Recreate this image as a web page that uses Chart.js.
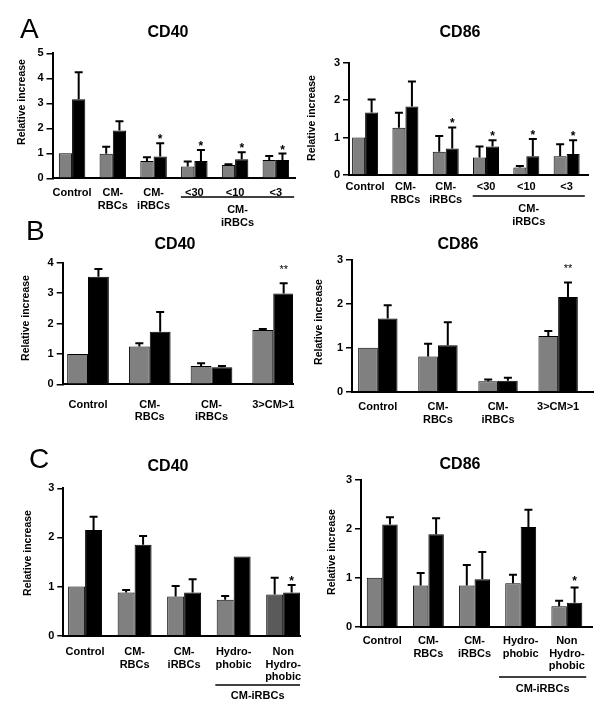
<!DOCTYPE html>
<html>
<head>
<meta charset="utf-8">
<script src="https://cdn.jsdelivr.net/npm/chart.js@4.4.1/dist/chart.umd.min.js"></script>
<style>
  body { margin: 0; background: #fff; }
  #wrap { position: relative; width: 600px; height: 714px; }
  canvas { position: absolute; left: 0; top: 0; }
</style>
</head>
<body>
<div id="wrap">
  <canvas id="a40" width="600" height="714"></canvas>
  <canvas id="a86" width="600" height="714"></canvas>
  <canvas id="b40" width="600" height="714"></canvas>
  <canvas id="b86" width="600" height="714"></canvas>
  <canvas id="c40" width="600" height="714"></canvas>
  <canvas id="c86" width="600" height="714"></canvas>
</div>
<script>
// Categories
const catsA = ["Control", ["CM-", "RBCs"], ["CM-", "iRBCs"], "<30", "<10", "<3"];
const catsB = ["Control", ["CM-", "RBCs"], ["CM-", "iRBCs"], "3>CM>1"];
const catsC = ["Control", ["CM-", "RBCs"], ["CM-", "iRBCs"], ["Hydro-", "phobic"], ["Non", "Hydro-", "phobic"]];

// Panel A - CD40
const a40Gray = [1.0, 0.98, 0.69, 0.47, 0.53, 0.73];
const a40GrayErr = [0, 0.28, 0.15, 0.2, 0.03, 0.16];
const a40Black = [3.16, 1.91, 0.87, 0.69, 0.76, 0.73];
const a40BlackErr = [1.08, 0.37, 0.53, 0.44, 0.28, 0.26];
const a40Stars = ["", "", "*", "*", "*", "*"];

// Panel A - CD86
const a86Gray = [1.0, 1.26, 0.62, 0.47, 0.2, 0.5];
const a86GrayErr = [0, 0.4, 0.42, 0.29, 0.04, 0.32];
const a86Black = [1.67, 1.83, 0.71, 0.76, 0.5, 0.56];
const a86BlackErr = [0.35, 0.67, 0.56, 0.17, 0.46, 0.37];
const a86Stars = ["", "", "*", "*", "*", "*"];

// Panel B - CD40
const b40Gray = [1.0, 1.24, 0.6, 1.79];
const b40GrayErr = [0, 0.11, 0.09, 0.03];
const b40Black = [3.54, 1.73, 0.56, 2.99];
const b40BlackErr = [0.25, 0.65, 0.04, 0.33];
const b40Stars = ["", "", "", "**"];

// Panel B - CD86
const b86Gray = [1.0, 0.8, 0.24, 1.27];
const b86GrayErr = [0, 0.29, 0.04, 0.11];
const b86Black = [1.67, 1.06, 0.25, 2.16];
const b86BlackErr = [0.3, 0.52, 0.07, 0.33];
const b86Stars = ["", "", "", "**"];

// Panel C - CD40
const c40Gray = [1.0, 0.88, 0.8, 0.73, 0.84];
const c40GrayErr = [0, 0.05, 0.21, 0.08, 0.34];
const c40Black = [2.15, 1.85, 0.88, 1.61, 0.88];
const c40BlackErr = [0.27, 0.18, 0.27, 0, 0.15];
const c40Stars = ["", "", "", "", "*"];

// Panel C - CD86
const c86Gray = [1.0, 0.84, 0.84, 0.89, 0.42];
const c86GrayErr = [0, 0.26, 0.42, 0.17, 0.11];
const c86Black = [2.09, 1.89, 0.97, 2.04, 0.49];
const c86BlackErr = [0.15, 0.33, 0.56, 0.35, 0.31];
const c86Stars = ["", "", "", "", "*"];

const FONT = "'Liberation Sans', Arial, Helvetica, sans-serif";
const GRAY = "#808080";

// draws error bars, stars, title, y label, group underline, panel letter
function decorPlugin(p) {
    return {
        id: "decor",
        afterDatasetsDraw(chart) {
            const ctx = chart.ctx;
            const y = chart.scales.y;
            chart.data.datasets.forEach((ds, di) => {
                const meta = chart.getDatasetMeta(di);
                meta.data.forEach((bar, i) => {
                    const err = ds.errors[i];
                    let top = bar.y;
                    ctx.save();
                    ctx.strokeStyle = "#000";
                    ctx.lineWidth = 2;
                    if (err) {
                        top = y.getPixelForValue(ds.data[i] + err);
                        ctx.beginPath();
                        ctx.moveTo(bar.x, bar.y);
                        ctx.lineTo(bar.x, top);
                        ctx.moveTo(bar.x - 4, top);
                        ctx.lineTo(bar.x + 4, top);
                        ctx.stroke();
                    }
                    if (ds.stars && ds.stars[i]) {
                        ctx.fillStyle = "#000";
                        ctx.font = p.starFont + " " + FONT;
                        ctx.textAlign = "center";
                        ctx.textBaseline = "alphabetic";
                        ctx.fillText(ds.stars[i], bar.x, top - p.starGap);
                    }
                    ctx.restore();
                });
            });
        },
        afterDraw(chart) {
            const ctx = chart.ctx;
            const x = chart.scales.x;
            ctx.save();
            ctx.fillStyle = "#000";
            // title
            ctx.font = "bold 16px " + FONT;
            ctx.textAlign = "center";
            ctx.textBaseline = "middle";
            ctx.fillText(p.title, p.titleX, p.titleY);
            // y axis label
            ctx.save();
            ctx.translate(p.yLabelX, p.yLabelY);
            ctx.rotate(-Math.PI / 2);
            ctx.font = "bold 10.5px " + FONT;
            ctx.fillText("Relative increase", 0, 0);
            ctx.restore();
            // group underline
            if (p.group) {
                const g = p.group;
                const x0 = x.getPixelForValue(g.from - g.padL);
                const x1 = x.getPixelForValue(g.to + g.padR);
                const ly = chart.chartArea.bottom + g.lineY;
                ctx.strokeStyle = "#000";
                ctx.lineWidth = 1.5;
                ctx.beginPath();
                ctx.moveTo(x0, ly);
                ctx.lineTo(x1, ly);
                ctx.stroke();
                ctx.font = "bold 11px " + FONT;
                g.text.forEach((t, k) => {
                    ctx.fillText(t, (x0 + x1) / 2, ly + g.textY + k * 12.5);
                });
            }
            // panel letter
            if (p.letter) {
                ctx.font = "28px " + FONT;
                ctx.textAlign = "left";
                ctx.textBaseline = "alphabetic";
                ctx.fillText(p.letter, p.letterX, p.letterY);
            }
            ctx.restore();
        }
    };
}

function makePanel(id, p) {
    const YW = 30, XH = 70;
    const tickFont = { family: FONT, size: 11, weight: "bold", lineHeight: 1.15 };
    return new Chart(document.getElementById(id), {
        type: "bar",
        data: {
            labels: p.cats.map((c, i) => i),
            datasets: [
                { data: p.gray, errors: p.grayErr, backgroundColor: p.grayColors || GRAY, borderColor: "#000", borderWidth: 1 },
                { data: p.black, errors: p.blackErr, stars: p.stars, backgroundColor: "#000", borderColor: "#000", borderWidth: 1 }
            ]
        },
        options: {
            responsive: false,
            animation: false,
            devicePixelRatio: 1,
            layout: { padding: { left: p.L - YW, top: p.T, right: 600 - p.R, bottom: Math.max(0, 714 - p.B - XH) } },
            datasets: { bar: { categoryPercentage: p.catPct, barPercentage: 1 } },
            plugins: { legend: { display: false }, tooltip: { enabled: false } },
            scales: {
                x: {
                    type: "linear",
                    offset: false,
                    bounds: "data",
                    min: p.xMin,
                    max: p.xMax,
                    afterBuildTicks: s => {
                        s.ticks = p.cats.map((c, i) => ({ value: i }));
                        s.min = p.xMin;
                        s.max = p.xMax;
                    },
                    afterFit: s => { s.height = XH; },
                    grid: { display: false, drawTicks: false, offset: false },
                    border: { color: "#000", width: 2 },
                    ticks: { autoSkip: false, maxRotation: 0, padding: p.tickPad, color: "#000", font: tickFont, callback: v => p.cats[v] }
                },
                y: {
                    min: 0,
                    max: p.yMax,
                    afterFit: s => { s.width = YW; },
                    grid: { drawOnChartArea: false, color: "#000", lineWidth: 1.5, tickLength: 6 },
                    border: { color: "#000", width: 2 },
                    ticks: { stepSize: 1, padding: 3, color: "#000", font: tickFont }
                }
            }
        },
        plugins: [decorPlugin(p)]
    });
}

makePanel("a40", {
    cats: catsA, gray: a40Gray, grayErr: a40GrayErr, black: a40Black, blackErr: a40BlackErr, stars: a40Stars,
    L: 52.5, T: 53.3, R: 295, B: 178.3, yMax: 5, xMin: -0.48, xMax: 5.47, catPct: 0.65, tickPad: 8.5,
    title: "CD40", titleX: 168, titleY: 33, yLabelX: 22, yLabelY: 102,
    starGap: 0, starFont: "bold 12px",
    group: { from: 3, to: 5, padL: 0.33, padR: 0.45, lineY: 18.7, textY: 13, text: ["CM-", "iRBCs"] },
    letter: "A", letterX: 20, letterY: 38
});

makePanel("a86", {
    cats: catsA, gray: a86Gray, grayErr: a86GrayErr, black: a86Black, blackErr: a86BlackErr, stars: a86Stars,
    L: 349, T: 62.7, R: 588, B: 175, yMax: 3, xMin: -0.4, xMax: 5.53, catPct: 0.645, tickPad: 6,
    title: "CD86", titleX: 460, titleY: 33, yLabelX: 312, yLabelY: 118,
    starGap: 0, starFont: "bold 12px",
    group: { from: 3, to: 5, padL: 0.33, padR: 0.45, lineY: 21, textY: 13, text: ["CM-", "iRBCs"] }
});

makePanel("b40", {
    cats: catsB, gray: b40Gray, grayErr: b40GrayErr, black: b40Black, blackErr: b40BlackErr, stars: b40Stars,
    L: 62.7, T: 262.7, R: 293, B: 384.3, yMax: 4, xMin: -0.41, xMax: 3.32, catPct: 0.675, tickPad: 14,
    title: "CD40", titleX: 175, titleY: 245, yLabelX: 26, yLabelY: 318,
    starGap: 10.5, starFont: "11px",
    letter: "B", letterX: 26, letterY: 240
});

makePanel("b86", {
    cats: catsB, gray: b86Gray, grayErr: b86GrayErr, black: b86Black, blackErr: b86BlackErr, stars: b86Stars,
    L: 352, T: 260, R: 593, B: 391.7, yMax: 3, xMin: -0.43, xMax: 3.58, catPct: 0.655, tickPad: 9,
    title: "CD86", titleX: 458, titleY: 245, yLabelX: 319, yLabelY: 322,
    starGap: 10.5, starFont: "11px"
});

makePanel("c40", {
    cats: catsC, gray: c40Gray, grayErr: c40GrayErr, black: c40Black, blackErr: c40BlackErr, stars: c40Stars,
    grayColors: [GRAY, GRAY, GRAY, GRAY, "#5a5a5a"],
    L: 63.3, T: 488.3, R: 300, B: 635.7, yMax: 3, xMin: -0.44, xMax: 4.34, catPct: 0.685, tickPad: 10,
    title: "CD40", titleX: 168, titleY: 467, yLabelX: 28, yLabelY: 553,
    starGap: 0.5, starFont: "bold 12px",
    group: { from: 3, to: 4, padL: 0.37, padR: 0.34, lineY: 49.3, textY: 11, text: ["CM-iRBCs"] },
    letter: "C", letterX: 29, letterY: 468
});

makePanel("c86", {
    cats: catsC, gray: c86Gray, grayErr: c86GrayErr, black: c86Black, blackErr: c86BlackErr, stars: c86Stars,
    L: 361, T: 480, R: 592.7, B: 626.7, yMax: 3, xMin: -0.46, xMax: 4.56, catPct: 0.67, tickPad: 8,
    title: "CD86", titleX: 460, titleY: 465, yLabelX: 332, yLabelY: 552,
    starGap: 3, starFont: "bold 12px",
    group: { from: 3, to: 4, padL: 0.47, padR: 0.42, lineY: 50.3, textY: 12, text: ["CM-iRBCs"] }
});
</script>
</body>
</html>
